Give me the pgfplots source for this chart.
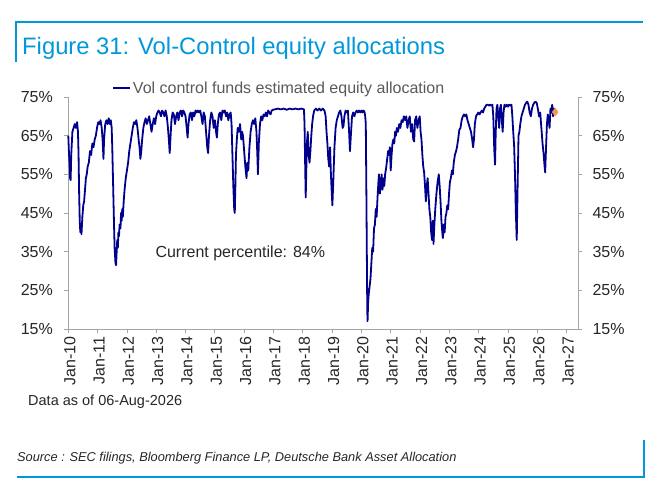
\documentclass[border=0pt]{standalone}
\usepackage{pgfplots}
\usepackage{pgfplotstable}
\pgfplotsset{compat=1.18}
\usepackage{fontspec}
\setmainfont{Liberation Sans}
\definecolor{dbblue}{RGB}{0,152,219}
\definecolor{navyline}{RGB}{0,0,140}
\definecolor{dborange}{RGB}{247,150,70}
\definecolor{axgray}{RGB}{165,165,165}

\pgfplotstableread{
t v
2010.00 65
2010.02 61
2010.04 58
2010.06 54
2010.08 53.5
2010.10 60
2010.14 66
2010.18 67
2010.22 68
2010.26 67
2010.30 68.5
2010.33 66
2010.35 60
2010.37 50
2010.39 43
2010.41 40
2010.43 41
2010.45 39.5
2010.48 44
2010.51 47
2010.54 48
2010.57 51
2010.60 54
2010.63 55
2010.66 57
2010.70 58
2010.74 61
2010.78 60
2010.82 63
2010.86 62
2010.90 64
2010.94 65
2010.98 67
2011.02 68.5
2011.06 68
2011.10 69
2011.14 67
2011.17 64
2011.20 59
2011.22 64
2011.26 68
2011.30 69
2011.34 68
2011.38 69.5
2011.42 68
2011.45 69
2011.48 67
2011.50 62
2011.53 52
2011.56 42
2011.58 36
2011.61 32
2011.63 31.5
2011.65 35
2011.67 38
2011.69 36
2011.71 40
2011.73 39
2011.75 42
2011.78 41
2011.80 45
2011.82 43
2011.84 46
2011.86 44
2011.89 48
2011.92 51
2011.96 54
2012.00 56
2012.04 58
2012.08 61
2012.12 63
2012.16 65
2012.20 67
2012.24 68.5
2012.28 68
2012.32 69
2012.36 67
2012.40 64
2012.43 62
2012.46 59
2012.49 61
2012.52 64
2012.56 67
2012.60 68.5
2012.64 69.5
2012.68 68
2012.72 69
2012.76 70
2012.80 68
2012.84 66
2012.88 68
2012.92 69.5
2012.96 68
2013.00 70
2013.04 71
2013.08 71.5
2013.12 71
2013.16 70
2013.20 71.5
2013.24 71
2013.28 70
2013.32 71.5
2013.36 70
2013.40 67
2013.43 64
2013.46 60.5
2013.49 65
2013.52 69
2013.56 71
2013.60 70.5
2013.64 68
2013.68 70
2013.72 71
2013.76 69
2013.80 71
2013.84 71.5
2013.88 70
2013.92 71.5
2013.96 71
2014.00 70
2014.04 67
2014.07 64.5
2014.10 68
2014.14 70.5
2014.18 71
2014.22 69
2014.26 71
2014.30 70
2014.34 71.5
2014.38 71
2014.42 71.5
2014.46 71
2014.50 71.5
2014.54 70
2014.58 68
2014.62 71
2014.66 70
2014.70 66
2014.74 62
2014.77 60.5
2014.80 65
2014.84 69
2014.88 71
2014.92 70
2014.96 67
2015.00 69
2015.04 66
2015.07 64.5
2015.10 68
2015.14 70.5
2015.18 71
2015.22 69
2015.26 71.5
2015.30 71
2015.34 71.5
2015.38 70
2015.42 71
2015.46 69
2015.50 70.5
2015.54 71
2015.57 68
2015.60 60
2015.63 52
2015.66 46
2015.68 45
2015.70 52
2015.72 60
2015.75 64
2015.78 67
2015.82 66
2015.86 68
2015.90 64
2015.93 66
2015.96 65
2016.00 61
2016.04 57
2016.08 54
2016.11 58
2016.14 56
2016.18 62
2016.22 66
2016.26 68
2016.30 69
2016.34 68
2016.38 69.5
2016.42 66
2016.45 60
2016.47 55
2016.50 63
2016.54 68
2016.58 70
2016.62 69
2016.66 70.5
2016.70 70
2016.74 71
2016.78 70
2016.82 71.5
2016.86 71
2016.90 70.5
2016.94 71.5
2016.98 71.7
2017.05 71.8
2017.15 72
2017.25 71.8
2017.35 72
2017.45 71.7
2017.55 72
2017.65 71.8
2017.75 72
2017.85 71.8
2017.95 72
2018.04 71.8
2018.06 68
2018.08 58
2018.10 49
2018.12 56
2018.14 63
2018.17 66
2018.20 60
2018.23 58
2018.26 61
2018.29 65
2018.32 68
2018.35 70
2018.39 71.5
2018.45 72
2018.50 71.5
2018.56 72
2018.62 71.5
2018.68 72
2018.74 71.5
2018.78 70
2018.81 66
2018.84 63
2018.87 59
2018.90 57
2018.93 62
2018.96 55
2018.99 50
2019.01 47
2019.04 53
2019.08 62
2019.12 67
2019.16 69
2019.20 70
2019.24 71
2019.28 71.5
2019.32 70
2019.36 67
2019.39 67.5
2019.42 70
2019.46 71.5
2019.50 71
2019.54 71.5
2019.58 66
2019.61 61
2019.64 65
2019.68 70
2019.72 71
2019.76 70
2019.80 71
2019.84 71.5
2019.88 71
2019.92 71.5
2019.96 71
2020.00 71.5
2020.04 71
2020.08 71.5
2020.11 71
2020.13 70
2020.15 68
2020.17 50
2020.19 30
2020.20 20
2020.21 17
2020.23 22
2020.25 24
2020.28 26
2020.31 28
2020.34 32
2020.37 36
2020.40 35
2020.43 41
2020.46 42
2020.49 46
2020.52 44
2020.55 49
2020.58 53
2020.60 55
2020.63 50
2020.66 52
2020.69 55
2020.72 51
2020.75 54
2020.78 52
2020.81 55
2020.85 57
2020.88 59
2020.91 61
2020.94 60
2020.97 62
2021.00 56
2021.03 60
2021.06 63
2021.09 64
2021.12 63
2021.15 66
2021.18 65
2021.21 67
2021.25 66
2021.29 68
2021.33 67
2021.37 69
2021.41 68.5
2021.45 70
2021.49 69
2021.53 70
2021.57 67
2021.61 69
2021.65 70
2021.69 66
2021.73 68
2021.77 64
2021.80 63.5
2021.83 69
2021.87 70
2021.91 67
2021.95 69
2021.99 70
2022.02 66
2022.05 64
2022.08 60
2022.11 57
2022.14 55.5
2022.17 52
2022.20 48
2022.23 52
2022.26 54
2022.29 50
2022.32 46
2022.35 44
2022.38 40
2022.41 38
2022.44 43
2022.46 37
2022.49 42
2022.52 46
2022.56 50
2022.60 53
2022.64 55
2022.67 52
2022.70 48
2022.73 43
2022.76 40
2022.78 38.5
2022.81 42
2022.84 40
2022.87 44
2022.90 45
2022.93 47
2022.96 46
2022.99 50
2023.02 53
2023.05 54
2023.09 56
2023.12 55
2023.15 58
2023.19 60
2023.23 61
2023.26 62
2023.30 64
2023.34 66.5
2023.38 67
2023.42 69
2023.46 70
2023.50 70.5
2023.54 70
2023.58 70.5
2023.62 69
2023.66 68
2023.70 67
2023.74 66
2023.78 64
2023.81 62
2023.84 64
2023.87 68
2023.91 70
2023.95 70.5
2023.99 71
2024.03 70.5
2024.07 71
2024.11 71.5
2024.15 71
2024.19 72
2024.23 72.5
2024.27 73
2024.31 73
2024.35 72.8
2024.39 73
2024.43 72.8
2024.47 73
2024.50 70
2024.53 62
2024.56 57.5
2024.58 65
2024.61 72
2024.64 73
2024.67 70
2024.70 67
2024.73 72
2024.76 73
2024.79 69
2024.82 66
2024.85 71
2024.88 73
2024.92 72.5
2024.96 73
2025.00 72.5
2025.04 73
2025.08 72.8
2025.12 73
2025.15 70
2025.18 66
2025.21 62.5
2025.24 55
2025.27 45
2025.30 38
2025.33 52
2025.36 65
2025.39 66
2025.42 68
2025.46 70
2025.50 71
2025.54 72
2025.58 73
2025.62 73.5
2025.66 73.8
2025.70 73
2025.74 71
2025.78 70
2025.82 72
2025.86 73
2025.90 73.5
2025.94 73.8
2025.98 73.5
2026.02 72
2026.06 70
2026.10 71
2026.14 67
2026.18 63
2026.22 60
2026.25 57
2026.27 55.5
2026.30 62
2026.33 68
2026.36 70.5
2026.39 69
2026.42 67
2026.45 72
2026.48 71
2026.51 73
2026.54 70
2026.57 72
2026.61 71.1
}\vcdata

\pgfplotstableread{
t v
2026.61 71.1
}\lastpt

\newcommand{\tfont}{\fontsize{16bp}{19bp}\selectfont}

\begin{document}
\begin{tikzpicture}
\useasboundingbox (0,0) rectangle (658bp,482bp);
% frame lines
\draw[dbblue, line width=1.3bp] (16bp,420bp) -- (16bp,460bp) -- (643bp,460bp);
\draw[dbblue, line width=1.3bp] (17bp,5bp) -- (644bp,5bp) -- (644bp,42bp);
% title
\node[anchor=base west, inner sep=0pt, text=dbblue, font=\fontsize{23.8bp}{28bp}\selectfont] at (22bp,427bp) {Figure 31: Vol-Control equity allocations};
% notes
\node[anchor=base west, inner sep=0pt, text=black!85, font=\fontsize{14.5bp}{17bp}\selectfont] at (28bp,76bp) {Data as of 06-Aug-2026};
\node[anchor=base west, inner sep=0pt, text=black!85, font=\fontsize{12.8bp}{15bp}\selectfont\itshape] at (17bp,20.5bp) {Source : SEC filings, Bloomberg Finance LP, Deutsche Bank Asset Allocation};

\begin{axis}[
  at={(68.3bp,153bp)}, anchor=south west,
  scale only axis, width=509.7bp, height=232bp,
  xmin=2010, xmax=2027.39, ymin=15, ymax=75,
  axis x line*=bottom, axis y line*=left,
  axis line style={draw=axgray, line width=0.8bp, -},
  tick style={draw=axgray, line width=0.8bp},
  tick align=outside, major tick length=4bp,
  xtick={2010,2011,...,2027},
  xticklabels={Jan-10,Jan-11,Jan-12,Jan-13,Jan-14,Jan-15,Jan-16,Jan-17,Jan-18,Jan-19,Jan-20,Jan-21,Jan-22,Jan-23,Jan-24,Jan-25,Jan-26,Jan-27},
  xticklabel style={rotate=90, anchor=east, font=\tfont, text=black!85, yshift=-1.5bp},
  ytick={15,25,...,75},
  yticklabels={15\%,25\%,35\%,45\%,55\%,65\%,75\%},
  yticklabel style={font=\tfont, text=black!85, xshift=-8bp},
  legend style={at={(0.0857,1.039)}, anchor=west, draw=none, fill=none, inner sep=0pt, font=\tfont, text=black!65},
  legend image code/.code={\draw[#1] (0bp,0bp) -- (17bp,0bp);},
  clip=false,
]
\addplot[navyline, line width=1.8bp, line join=round] table[x=t, y=v] {\vcdata};
\addlegendentry{Vol control funds estimated equity allocation}
\addplot[forget plot, only marks, mark=diamond*, mark size=4bp, color=dborange] table[x=t, y=v] {\lastpt};
\node[anchor=base west, inner sep=0pt, font=\tfont, text=black!85] at (axis cs:2012.97,33.5) {Current percentile: 84\%};
\end{axis}

\begin{axis}[
  at={(68.3bp,153bp)}, anchor=south west,
  scale only axis, width=509.7bp, height=232bp,
  xmin=2010, xmax=2027.39, ymin=15, ymax=75,
  hide x axis,
  axis y line*=right,
  axis line style={draw=axgray, line width=0.8bp, -},
  tick style={draw=axgray, line width=0.8bp},
  tick align=outside, major tick length=4bp,
  ytick={15,25,...,75},
  yticklabels={15\%,25\%,35\%,45\%,55\%,65\%,75\%},
  yticklabel style={font=\tfont, text=black!85, xshift=7bp},
]
\addplot[draw=none, forget plot] coordinates {(2010,15)};
\end{axis}
\end{tikzpicture}
\end{document}
